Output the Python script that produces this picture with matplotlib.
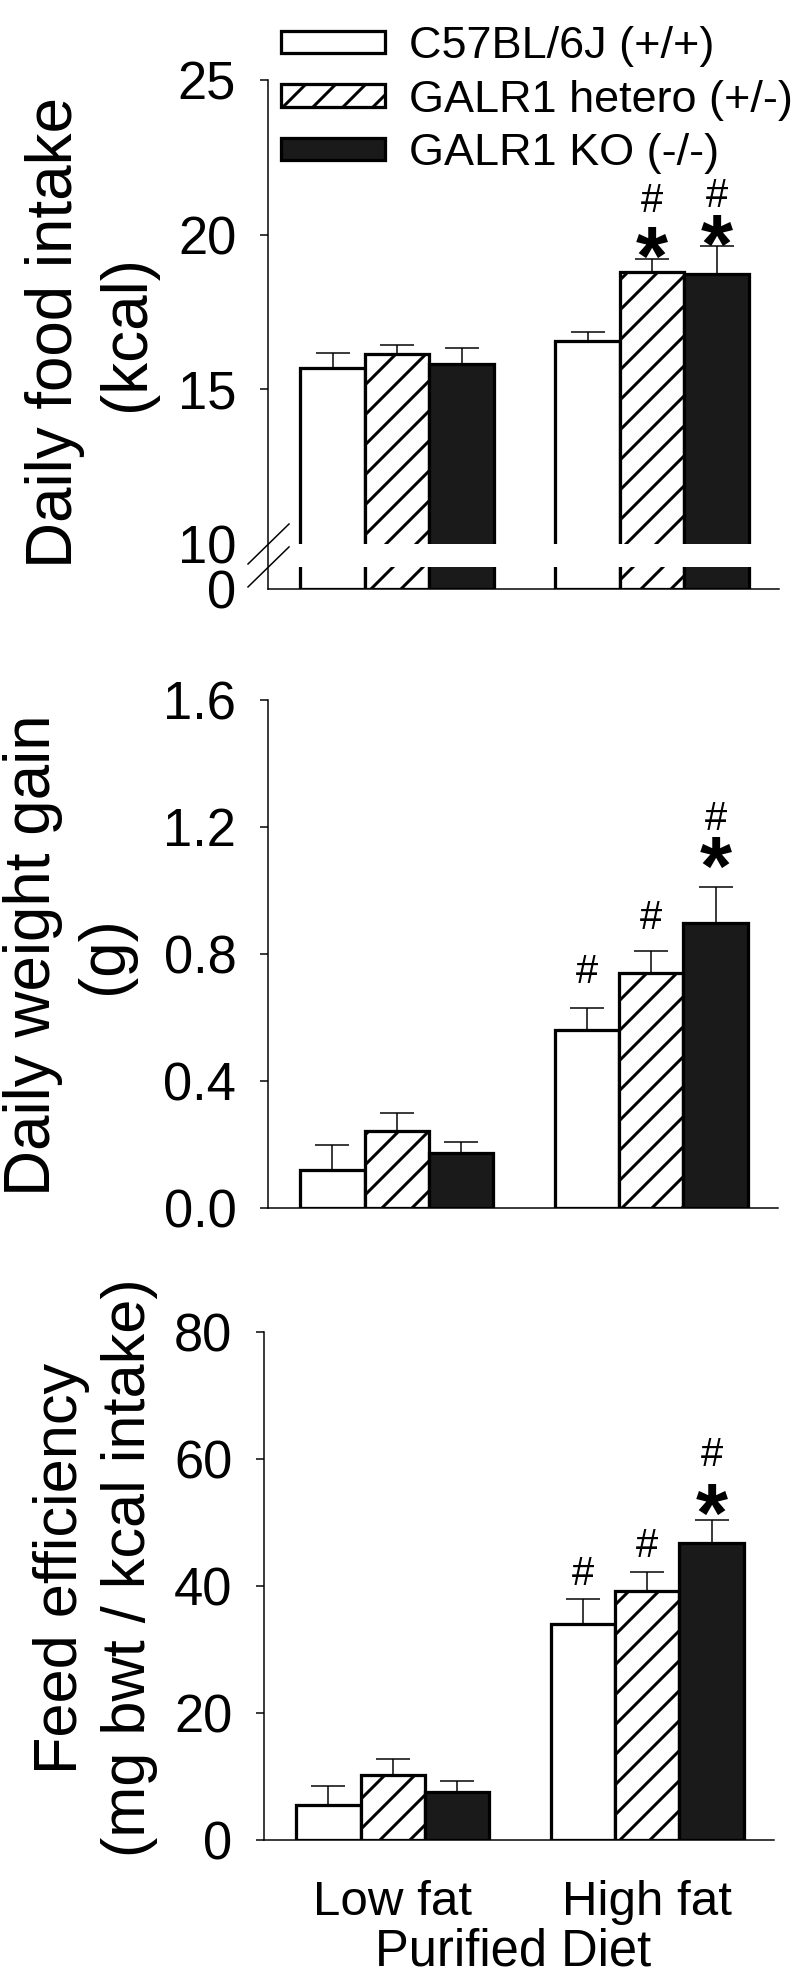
import numpy as np
import matplotlib
matplotlib.use('Agg')
import matplotlib.pyplot as plt
from matplotlib.lines import Line2D
from matplotlib.patches import Rectangle

plt.rcParams['font.family'] = ['Liberation Sans', 'DejaVu Sans']
plt.rcParams['hatch.linewidth'] = 1.2
plt.rcParams['hatch.color'] = 'black'

DPI = 180
W, H = 800, 1976

diets = ['Low fat', 'High fat']
genotypes = ['C57BL/6J (+/+)', 'GALR1 hetero (+/-)', 'GALR1 KO (-/-)']

# rows = genotype, columns = diet (low fat, high fat)
food_mean = [[15.70, 16.55], [16.13, 18.78], [15.81, 18.74]]
food_sem = [[0.49, 0.30], [0.31, 0.43], [0.51, 0.89]]
gain_mean = [[0.121, 0.562], [0.242, 0.740], [0.172, 0.897]]
gain_sem = [[0.079, 0.067], [0.058, 0.068], [0.037, 0.115]]
eff_mean = [[5.45, 34.04], [10.21, 39.28], [7.63, 46.77]]
eff_sem = [[3.06, 3.95], [2.59, 3.00], [1.70, 3.61]]

# significance marks: (genotype, diet, symbol, y)
food_marks = [(1, 1, '#', 21.19), (1, 1, '*', 19.90), (2, 1, '#', 21.35), (2, 1, '*', 20.28)]
gain_marks = [(0, 1, '#', 0.753), (1, 1, '#', 0.923), (2, 1, '#', 1.237), (2, 1, '*', 1.135)]
eff_marks = [(0, 1, '#', 42.4), (1, 1, '#', 46.8), (2, 1, '#', 61.1), (2, 1, '*', 54.3)]

fills = ['white', 'white', '#1a1a1a']
hatches = [None, '//', None]
bar_w = 0.253
offsets = [-bar_w, 0, bar_w]
TICK_FS = 21

fig = plt.figure(figsize=(W / DPI, H / DPI), dpi=DPI)


def add_ax(l, r, t, b):
    return fig.add_axes([l / W, 1 - b / H, (r - l) / W, (b - t) / H])


def draw_panel(ax, means, sems, marks):
    x = np.arange(len(diets))
    bars = []
    for g in range(len(genotypes)):
        b = ax.bar(x + offsets[g], means[g], bar_w, color=fills[g], edgecolor='black',
                   linewidth=1.3, hatch=hatches[g], label=genotypes[g], zorder=1)
        ax.errorbar(x + offsets[g], means[g], yerr=[np.zeros(len(diets)), sems[g]],
                    fmt='none', ecolor='black', elinewidth=0.6, capsize=6.8,
                    capthick=0.6, zorder=3)
        bars.append(b)
    for g, d, sym, y in marks:
        if sym == '*':
            ax.annotate(sym, (d + offsets[g], y), xytext=(0, -10), textcoords='offset points',
                        ha='center', va='center', fontsize=33, fontweight='bold')
        else:
            ax.annotate(sym, (d + offsets[g], y), xytext=(0, -1.3), textcoords='offset points',
                        ha='center', va='center', fontsize=16)
    ax.set_xlim(-0.506, 1.498)
    ax.set_xticks(x)
    ax.tick_params(axis='x', length=0, labelbottom=False)
    ax.tick_params(axis='y', length=3.2, width=0.6, pad=9.5, labelsize=TICK_FS)
    for s in ['top', 'right']:
        ax.spines[s].set_visible(False)
    for s in ['left', 'bottom']:
        ax.spines[s].set_linewidth(0.6)
    return bars


# ---- panel 1: daily food intake, broken axis ----
r = 0.1455  # compression of the 0-10 span


def fwd(y):
    y = np.asarray(y, dtype=float)
    return np.where(y <= 10, y * r, 10 * r + (y - 10))


def inv(u):
    u = np.asarray(u, dtype=float)
    return np.where(u <= 10 * r, u / r, u - 10 * r + 10)


ax1 = add_ax(268, 779, 80, 589)
ax1.set_yscale('function', functions=(fwd, inv))
bars = draw_panel(ax1, food_mean, food_sem, food_marks)
ax1.set_ylim(0, 25)
ax1.set_yticks([15, 20, 25])
ax1.set_yticklabels(['15', '20', '25'])
ax1.set_yticks([0, 10], minor=True)
ax1.set_yticklabels(['0', '10'], minor=True)
ax1.tick_params(axis='y', which='minor', length=0, pad=12.7, labelsize=TICK_FS)
gap_lo = 4.9
ax1.add_patch(Rectangle((-0.506, gap_lo), 2.004, 10 - gap_lo, facecolor='white',
                        edgecolor='none', zorder=2))
ax1.set_ylabel('Daily food intake\n(kcal)', fontsize=25.5, ha='center', va='center',
               multialignment='center', linespacing=1.25)
ax1.yaxis.set_label_coords(91 / W, 1 - 333 / H, transform=fig.transFigure)

# break marks on the axis
fig.canvas.draw()
for yv in [10, gap_lo]:
    px, py = ax1.transData.transform((-0.506, yv))
    fig.add_artist(Line2D([(px - 20) / fig.bbox.width, (px + 21) / fig.bbox.width],
                          [(py - 20) / fig.bbox.height, (py + 20) / fig.bbox.height],
                          transform=fig.transFigure, color='black', linewidth=0.6))

fig.legend(bars, genotypes, loc='upper left', bbox_to_anchor=(281 / W, 1 - 26 / H),
           frameon=False, fontsize=18, handlelength=2.3, handleheight=0.4,
           handletextpad=0.55, labelspacing=0.28, borderpad=0, borderaxespad=0)

# ---- panel 2: daily weight gain ----
ax2 = add_ax(268, 778, 700, 1208)
draw_panel(ax2, gain_mean, gain_sem, gain_marks)
ax2.set_ylim(0, 1.6)
ax2.set_yticks(np.arange(0, 1.61, 0.4))
ax2.set_yticklabels(['0.0', '0.4', '0.8', '1.2', '1.6'])
ax2.set_ylabel('Daily weight gain\n(g)', fontsize=25.5, ha='center', va='center',
               multialignment='center', linespacing=1.25)
ax2.yaxis.set_label_coords(69 / W, 1 - 955 / H, transform=fig.transFigure)

# ---- panel 3: feed efficiency ----
ax3 = add_ax(264, 774, 1332, 1840)
draw_panel(ax3, eff_mean, eff_sem, eff_marks)
ax3.set_ylim(0, 80)
ax3.set_yticks([0, 20, 40, 60, 80])
ax3.set_ylabel('Feed efficiency\n(mg bwt / kcal intake)', fontsize=24.5, ha='center',
               va='center', multialignment='center', linespacing=1.25)
ax3.yaxis.set_label_coords(96 / W, 1 - 1568 / H, transform=fig.transFigure)
ax3.tick_params(axis='x', labelbottom=True, labelsize=19.7, pad=16)
ax3.set_xticklabels(diets)
ax3.set_xlabel('Purified Diet', fontsize=20.3)
ax3.xaxis.set_label_coords(513 / W, 1 - 1928 / H, transform=fig.transFigure)

fig.savefig('out.png', dpi=DPI)
